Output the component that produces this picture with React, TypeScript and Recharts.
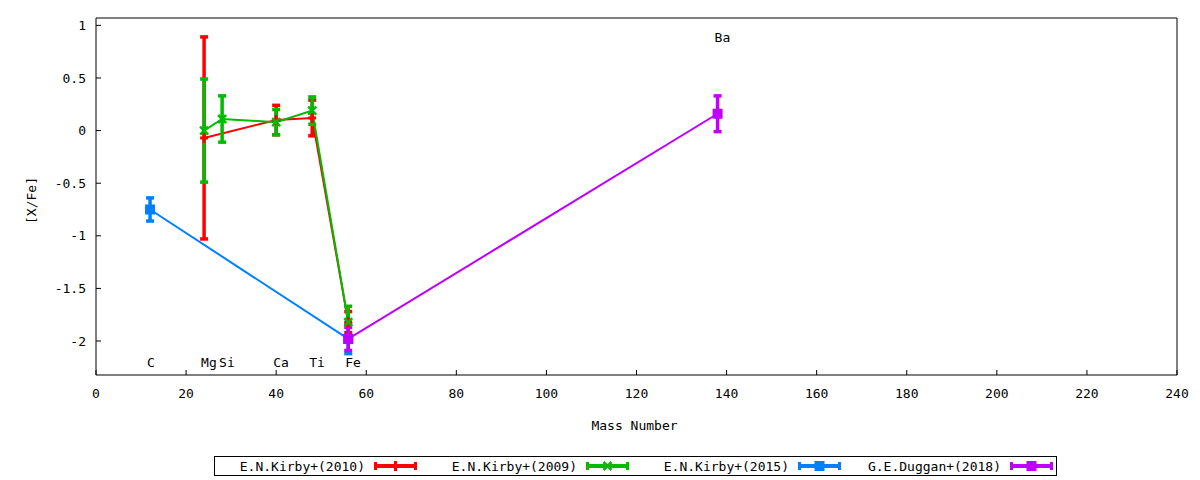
import React from 'react';
import { LineChart, Line, XAxis, YAxis, ErrorBar, ReferenceDot, Legend } from 'recharts';

const FONT = '"DejaVu Sans Mono", monospace';

// [X/Fe] per mass number, with errors
const KIRBY10_MASS = [24, 40, 48, 56];
const KIRBY10_XFE = [-0.07, 0.1, 0.12, -1.82];
const KIRBY10_ERR = [0.96, 0.14, 0.17, 0.1];

const KIRBY09_MASS = [24, 28, 40, 48, 56];
const KIRBY09_XFE = [0.0, 0.11, 0.08, 0.19, -1.82];
const KIRBY09_ERR = [0.49, 0.22, 0.12, 0.13, 0.15];

const KIRBY15_MASS = [12, 56];
const KIRBY15_XFE = [-0.75, -1.98];
const KIRBY15_ERR = [0.11, 0.14];

const DUGGAN18_MASS = [56, 138];
const DUGGAN18_XFE = [-1.98, 0.16];
const DUGGAN18_ERR = [0.11, 0.17];

const ELEMENTS = ['C', 'Mg', 'Si', 'Ca', 'Ti', 'Fe', 'Ba'];
const ELEMENT_MASS = [12, 24, 28, 40, 48, 56, 138];
const ELEMENT_LABEL_Y = [-2.2, -2.2, -2.2, -2.2, -2.2, -2.2, 0.88];

const X_TICKS = [0, 20, 40, 60, 80, 100, 120, 140, 160, 180, 200, 220, 240];
const Y_TICKS = [-2, -1.5, -1, -0.5, 0, 0.5, 1];

const toRows = (mass: number[], xfe: number[], err: number[]) =>
  mass.map((m, i) => ({ x: m, y: xfe[i], err: err[i] }));

type Marker = 'plus' | 'cross' | 'square';

const SERIES = [
  { name: 'E.N.Kirby+(2010)', color: '#ff0000', marker: 'plus' as Marker, data: toRows(KIRBY10_MASS, KIRBY10_XFE, KIRBY10_ERR) },
  { name: 'E.N.Kirby+(2009)', color: '#00bb00', marker: 'cross' as Marker, data: toRows(KIRBY09_MASS, KIRBY09_XFE, KIRBY09_ERR) },
  { name: 'E.N.Kirby+(2015)', color: '#0080ff', marker: 'square' as Marker, data: toRows(KIRBY15_MASS, KIRBY15_XFE, KIRBY15_ERR) },
  { name: 'G.E.Duggan+(2018)', color: '#c000ff', marker: 'square' as Marker, data: toRows(DUGGAN18_MASS, DUGGAN18_XFE, DUGGAN18_ERR) },
];

function drawMarker(marker: Marker, cx: number, cy: number, color: string, key?: string) {
  if (marker === 'plus') {
    return (
      <g key={key}>
        <line x1={cx - 4} y1={cy} x2={cx + 4} y2={cy} stroke={color} strokeWidth={3} />
        <line x1={cx} y1={cy - 5} x2={cx} y2={cy + 5} stroke={color} strokeWidth={3} />
      </g>
    );
  }
  if (marker === 'cross') {
    return (
      <g key={key}>
        <line x1={cx - 4} y1={cy - 4} x2={cx + 4} y2={cy + 4} stroke={color} strokeWidth={2.5} />
        <line x1={cx - 4} y1={cy + 4} x2={cx + 4} y2={cy - 4} stroke={color} strokeWidth={2.5} />
      </g>
    );
  }
  return <rect key={key} x={cx - 5} y={cy - 5} width={10} height={10} fill={color} />;
}

// gnuplot-style boxed legend, one column per series
function GnuLegend() {
  return (
    <svg width={843} height={20} style={{ display: 'block' }}>
      <rect x={0.5} y={0.5} width={842} height={19} fill="none" stroke="#000" strokeWidth={1} />
      {SERIES.map((s, i) => {
        const x0 = 160 + i * 212;
        return (
          <g key={s.name}>
            <text x={x0 - 9} y={14.5} textAnchor="end" fontFamily={FONT} fontSize={13} fill="#000">
              {s.name}
            </text>
            <line x1={x0} y1={10} x2={x0 + 43} y2={10} stroke={s.color} strokeWidth={4} />
            <line x1={x0 + 1.5} y1={6} x2={x0 + 1.5} y2={14} stroke={s.color} strokeWidth={3} />
            <line x1={x0 + 41.5} y1={6} x2={x0 + 41.5} y2={14} stroke={s.color} strokeWidth={3} />
            {drawMarker(s.marker, x0 + 21.5, 10, s.color)}
          </g>
        );
      })}
    </svg>
  );
}

function YLabel({ viewBox }: any) {
  const cx = viewBox.x + 31;
  const cy = viewBox.y + viewBox.height / 2 + 4;
  return (
    <text x={cx} y={cy} transform={`rotate(-90 ${cx} ${cy})`} textAnchor="middle" dominantBaseline="central"
      fontFamily={FONT} fontSize={13} fill="#000">
      [X/Fe]
    </text>
  );
}

function XLabel({ viewBox }: any) {
  return (
    <text x={viewBox.x + viewBox.width / 2 - 2} y={viewBox.y + 55} textAnchor="middle"
      fontFamily={FONT} fontSize={13} fill="#000">
      Mass Number
    </text>
  );
}

export default function App() {
  const tickStyle = { fontFamily: FONT, fontSize: 13, fill: '#000' };
  return (
    <div style={{ width: 1200, height: 480, background: '#fff' }}>
      <style>{'body{margin:0}'}</style>
      <LineChart width={1200} height={480} margin={{ top: 17, right: 22, left: 0, bottom: 45 }}>
        <XAxis dataKey="x" type="number" domain={[0, 240]} ticks={X_TICKS} allowDataOverflow
          height={40} tickSize={-5} tickMargin={19} stroke="#000" tick={tickStyle}
          label={{ content: XLabel }} />
        <XAxis xAxisId="top" orientation="top" dataKey="x" type="number" domain={[0, 240]} ticks={X_TICKS}
          allowDataOverflow height={1} tickSize={-5} tick={false} stroke="#000" />
        <YAxis type="number" domain={[-2.323, 1.07]} ticks={Y_TICKS} allowDataOverflow width={96}
          tickSize={-5} tickMargin={15} stroke="#000" tick={tickStyle}
          label={{ content: YLabel }} />
        <YAxis yAxisId="right" orientation="right" type="number" domain={[-2.323, 1.07]} ticks={Y_TICKS}
          allowDataOverflow width={1} tickSize={-5} tick={false} stroke="#000" />
        {SERIES.map((s) => (
          <Line key={s.name} name={s.name} data={s.data} dataKey="y" type="linear" stroke={s.color}
            strokeWidth={2} isAnimationActive={false}
            dot={(p: any) => drawMarker(s.marker, p.cx, p.cy, s.color, `${s.name}-${p.index}`)}
            activeDot={false}>
            <ErrorBar dataKey="err" direction="y" width={4} stroke={s.color} strokeWidth={3.5}
              isAnimationActive={false} />
          </Line>
        ))}
        {ELEMENTS.map((el, i) => (
          <ReferenceDot key={el} x={ELEMENT_MASS[i]} y={ELEMENT_LABEL_Y[i]} r={0}
            shape={(p: any) => (
              <text x={p.cx - 3} y={p.cy} dominantBaseline="central" fontFamily={FONT} fontSize={13} fill="#000">
                {el}
              </text>
            )} />
        ))}
        <Legend content={GnuLegend}
          wrapperStyle={{ position: 'absolute', left: 214, top: 456, bottom: 'auto', width: 843, height: 20 }} />
      </LineChart>
    </div>
  );
}
